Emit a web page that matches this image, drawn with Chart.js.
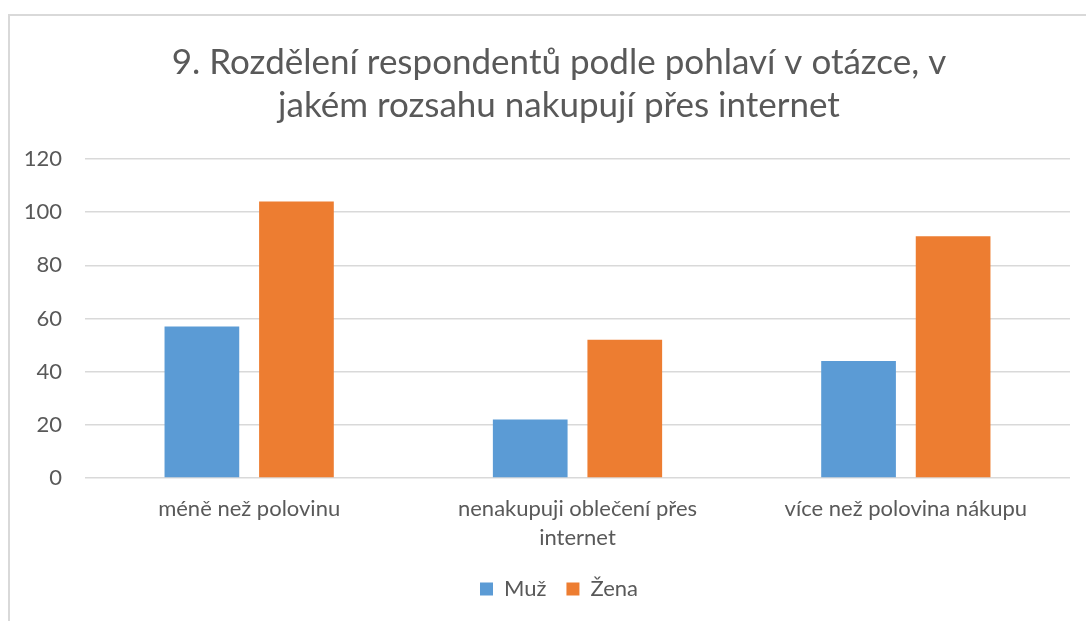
<!DOCTYPE html>
<html lang="cs">
<head>
<meta charset="utf-8">
<script src="https://cdn.jsdelivr.net/npm/chart.js@4/dist/chart.umd.min.js"></script>
<style>
  html, body { margin: 0; padding: 0; background: #fff; }
  #wrap { position: relative; width: 1086px; height: 621px; overflow: hidden; }
  #frame { position: absolute; left: 8px; top: 14px; width: 1200px; height: 800px; border: 2px solid #d9d9d9; }
  canvas { position: absolute; left: 0; top: 0; }
</style>
</head>
<body>
<div id="wrap">
  <div id="frame"></div>
  <canvas id="chart" width="1086" height="621"></canvas>
</div>
<script>
// Kategorie a hodnoty
const kategorie = ["méně než polovinu", ["nenakupuji oblečení přes", "internet"], "více než polovina nákupu"];
const muz = [57, 22, 44];
const zena = [104, 52, 91];
const titulek = ["9. Rozdělení respondentů podle pohlaví v otázce, v", "jakém rozsahu nakupují přes internet"];

const textColor = "#595959";
const gridColor = "#d9d9d9";

// osa Y dostane zpět celý levý okraj, aby popisky nebyly oříznuté
const sirokaOsa = {
    id: "sirokaOsa",
    afterLayout(chart) {
        const y = chart.scales.y;
        y.left = 0;
        y.width = y.right;
    }
};

new Chart(document.getElementById("chart"), {
    type: "bar",
    data: {
        labels: kategorie,
        datasets: [
            { label: "Muž", data: muz, backgroundColor: "#5B9BD5", categoryPercentage: 0.576, barPercentage: 0.79 },
            { label: "Žena", data: zena, backgroundColor: "#ED7D31", categoryPercentage: 0.576, barPercentage: 0.79 }
        ]
    },
    plugins: [sirokaOsa],
    options: {
        responsive: false,
        animation: false,
        // levý okraj posouvá titulek a legendu na střed rámečku
        layout: { padding: { left: 48, right: 16, top: 0, bottom: 11 } },
        plugins: {
            title: {
                display: true,
                text: titulek,
                color: textColor,
                font: { family: "Lato", size: 35, weight: "normal", lineHeight: 1.23 },
                padding: { top: 41, bottom: 32 }
            },
            legend: {
                position: "bottom",
                labels: {
                    color: textColor,
                    font: { family: "Lato", size: 22 },
                    boxWidth: 13,
                    boxHeight: 13,
                    padding: 20
                }
            },
            tooltip: { enabled: false }
        },
        scales: {
            x: {
                grid: { display: false },
                border: { display: false },
                ticks: {
                    color: textColor,
                    font: { family: "Lato", size: 22, lineHeight: 1.32 },
                    padding: 8,
                    maxRotation: 0,
                    autoSkip: false
                },
                afterFit: scale => { scale.height = 80; }
            },
            y: {
                min: 0,
                max: 120,
                ticks: {
                    stepSize: 20,
                    color: textColor,
                    font: { family: "Lato", size: 22 },
                    padding: 23
                },
                grid: { color: gridColor, lineWidth: 1.5, drawTicks: false },
                border: { display: false },
                afterFit: scale => { scale.width = 37; }
            }
        }
    }
});
</script>
</body>
</html>
